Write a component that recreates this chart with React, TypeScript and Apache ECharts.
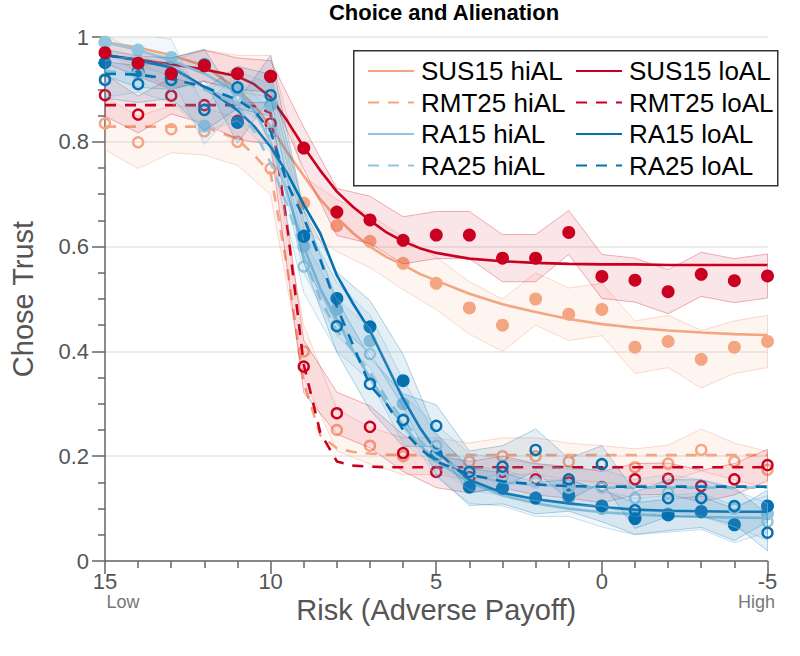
import React, { useEffect, useRef } from "react";
import * as echarts from "echarts";

// Risk levels (adverse payoff)
const X = [15, 14, 13, 12, 11, 10, 9, 8, 7, 6, 5, 4, 3, 2, 1, 0, -1, -2, -3, -4, -5];
// x grid of the fitted curves
const FIT_X = [15, 14, 13, 12, 11, 10.5, 10, 9.5, 9, 8.5, 8, 7.5, 7, 6.5, 6, 5.5, 5, 4, 3, 2, 1, 0, -1, -2, -3, -4, -5];

const SERIES_NAMES = ["SUS15 hiAL", "SUS15 loAL", "RMT25 hiAL", "RMT25 loAL", "RA15 hiAL", "RA15 loAL", "RA25 hiAL", "RA25 loAL"];

// observed proportions
const susHiData = [0.99, 0.95, 0.93, 0.945, 0.93, 0.925, 0.683, 0.64, 0.61, 0.568, 0.53, 0.483, 0.45, 0.5, 0.471, 0.48, 0.408, 0.419, 0.385, 0.408, 0.419];
const susLoData = [0.97, 0.95, 0.93, 0.945, 0.93, 0.925, 0.788, 0.666, 0.651, 0.612, 0.622, 0.622, 0.578, 0.578, 0.627, 0.543, 0.536, 0.514, 0.547, 0.535, 0.544];
const rmtHiData = [0.835, 0.799, 0.824, 0.82, 0.8, 0.749, 0.4, 0.25, 0.22, 0.2, 0.2, 0.19, 0.2, 0.2, 0.19, 0.185, 0.179, 0.186, 0.212, 0.19, 0.174];
const rmtLoData = [0.889, 0.852, 0.888, 0.87, 0.84, 0.835, 0.371, 0.282, 0.256, 0.206, 0.17, 0.16, 0.17, 0.156, 0.15, 0.141, 0.156, 0.157, 0.143, 0.156, 0.183];
const ra15HiData = [0.99, 0.975, 0.961, 0.83, 0.9, 0.87, 0.6, 0.48, 0.42, 0.3, 0.2, 0.145, 0.14, 0.12, 0.12, 0.1, 0.085, 0.09, 0.095, 0.07, 0.09];
const ra15LoData = [0.951, 0.934, 0.93, 0.947, 0.837, 0.925, 0.62, 0.501, 0.447, 0.344, 0.204, 0.141, 0.139, 0.12, 0.125, 0.105, 0.081, 0.088, 0.094, 0.069, 0.105];
const ra25HiData = [0.92, 0.93, 0.91, 0.86, 0.88, 0.82, 0.562, 0.45, 0.395, 0.27, 0.22, 0.17, 0.16, 0.15, 0.14, 0.14, 0.12, 0.13, 0.12, 0.1, 0.075];
const ra25LoData = [0.918, 0.91, 0.918, 0.861, 0.904, 0.889, 0.619, 0.448, 0.338, 0.269, 0.258, 0.17, 0.18, 0.212, 0.156, 0.185, 0.097, 0.12, 0.12, 0.105, 0.054];

// half widths of the shaded intervals
const susHiSE = [0.015, 0.02, 0.025, 0.03, 0.035, 0.04, 0.05, 0.05, 0.05, 0.05, 0.05, 0.05, 0.05, 0.05, 0.05, 0.05, 0.05, 0.05, 0.055, 0.05, 0.05];
const susLoSE = [0.02, 0.025, 0.03, 0.03, 0.03, 0.03, 0.04, 0.045, 0.045, 0.045, 0.045, 0.045, 0.045, 0.045, 0.042, 0.042, 0.042, 0.042, 0.042, 0.042, 0.042];
const rmtHiSE = [0.05, 0.05, 0.045, 0.045, 0.045, 0.05, 0.05, 0.04, 0.035, 0.035, 0.035, 0.035, 0.035, 0.035, 0.035, 0.035, 0.035, 0.035, 0.04, 0.035, 0.035];
const rmtLoSE = [0.04, 0.035, 0.035, 0.035, 0.035, 0.04, 0.05, 0.04, 0.04, 0.035, 0.03, 0.03, 0.03, 0.03, 0.03, 0.03, 0.03, 0.03, 0.03, 0.03, 0.03];
const ra15HiSE = [0.02, 0.03, 0.035, 0.035, 0.035, 0.04, 0.05, 0.05, 0.05, 0.045, 0.04, 0.035, 0.035, 0.035, 0.035, 0.035, 0.035, 0.035, 0.035, 0.035, 0.035];
const ra15LoSE = [0.025, 0.03, 0.03, 0.03, 0.04, 0.04, 0.05, 0.05, 0.05, 0.05, 0.04, 0.035, 0.03, 0.03, 0.03, 0.03, 0.03, 0.03, 0.03, 0.03, 0.03];
const ra25HiSE = [0.035, 0.035, 0.035, 0.04, 0.04, 0.04, 0.05, 0.05, 0.05, 0.045, 0.04, 0.035, 0.035, 0.035, 0.035, 0.035, 0.035, 0.035, 0.035, 0.035, 0.035];
const ra25LoSE = [0.035, 0.035, 0.035, 0.04, 0.04, 0.04, 0.05, 0.05, 0.05, 0.05, 0.04, 0.04, 0.04, 0.04, 0.04, 0.035, 0.035, 0.035, 0.035, 0.035, 0.035];

// fitted curves on FIT_X
const susHiFit = [0.99, 0.98, 0.965, 0.945, 0.9, 0.87, 0.83, 0.78, 0.735, 0.69, 0.655, 0.625, 0.6, 0.58, 0.565, 0.548, 0.535, 0.51, 0.49, 0.475, 0.462, 0.452, 0.445, 0.44, 0.436, 0.433, 0.431];
const susLoFit = [0.965, 0.957, 0.948, 0.938, 0.925, 0.91, 0.885, 0.84, 0.79, 0.745, 0.705, 0.675, 0.65, 0.627, 0.61, 0.597, 0.588, 0.577, 0.572, 0.569, 0.567, 0.566, 0.566, 0.565, 0.565, 0.565, 0.565];
const rmtHiFit = [0.829, 0.829, 0.829, 0.829, 0.805, 0.775, 0.74, 0.56, 0.34, 0.24, 0.215, 0.208, 0.205, 0.203, 0.202, 0.202, 0.202, 0.202, 0.202, 0.202, 0.202, 0.202, 0.202, 0.202, 0.202, 0.202, 0.202];
const rmtLoFit = [0.87, 0.87, 0.87, 0.87, 0.87, 0.868, 0.855, 0.64, 0.375, 0.245, 0.19, 0.182, 0.18, 0.179, 0.179, 0.179, 0.179, 0.179, 0.179, 0.179, 0.179, 0.179, 0.179, 0.179, 0.179, 0.179, 0.179];
const ra15HiFit = [0.99, 0.975, 0.955, 0.93, 0.895, 0.86, 0.8, 0.7, 0.6, 0.52, 0.46, 0.4, 0.35, 0.3, 0.26, 0.22, 0.19, 0.15, 0.125, 0.11, 0.1, 0.093, 0.089, 0.086, 0.084, 0.083, 0.082];
const ra15LoFit = [0.966, 0.955, 0.942, 0.905, 0.86, 0.83, 0.79, 0.74, 0.68, 0.625, 0.545, 0.49, 0.44, 0.375, 0.31, 0.255, 0.21, 0.155, 0.13, 0.118, 0.11, 0.103, 0.098, 0.096, 0.095, 0.094, 0.094];
const ra25HiFit = [0.935, 0.93, 0.92, 0.9, 0.87, 0.82, 0.76, 0.68, 0.58, 0.5, 0.44, 0.4, 0.36, 0.31, 0.27, 0.23, 0.2, 0.165, 0.15, 0.145, 0.142, 0.14, 0.14, 0.14, 0.14, 0.14, 0.14];
const ra25LoFit = [0.93, 0.928, 0.92, 0.905, 0.88, 0.86, 0.82, 0.72, 0.655, 0.575, 0.485, 0.41, 0.335, 0.3, 0.25, 0.215, 0.19, 0.165, 0.152, 0.146, 0.143, 0.142, 0.142, 0.142, 0.142, 0.142, 0.142];

const Y_TICKS = ["0", "0.2", "0.4", "0.6", "0.8", "1"];

const ORANGE = "#f4a582";
const RED = "#ca0020";
const LBLUE = "#92c5de";
const BLUE = "#0571b0";

const FONT = "'Liberation Sans', Arial, Helvetica, sans-serif";

type Cond = {
  name: string;
  color: string;
  dashed: boolean;
  filled: boolean;
  data: number[];
  se: number[];
  fit: number[];
  bandFill: string;
  bandStroke: string;
};

const CONDS: Cond[] = [
  { name: SERIES_NAMES[0], color: ORANGE, dashed: false, filled: true, data: susHiData, se: susHiSE, fit: susHiFit, bandFill: "rgba(244,165,130,0.11)", bandStroke: "rgba(244,165,130,0.4)" },
  { name: SERIES_NAMES[1], color: RED, dashed: false, filled: true, data: susLoData, se: susLoSE, fit: susLoFit, bandFill: "rgba(202,0,32,0.1)", bandStroke: "rgba(202,0,32,0.3)" },
  { name: SERIES_NAMES[2], color: ORANGE, dashed: true, filled: false, data: rmtHiData, se: rmtHiSE, fit: rmtHiFit, bandFill: "rgba(244,165,130,0.11)", bandStroke: "rgba(244,165,130,0.4)" },
  { name: SERIES_NAMES[3], color: RED, dashed: true, filled: false, data: rmtLoData, se: rmtLoSE, fit: rmtLoFit, bandFill: "rgba(202,0,32,0.1)", bandStroke: "rgba(202,0,32,0.3)" },
  { name: SERIES_NAMES[4], color: LBLUE, dashed: false, filled: true, data: ra15HiData, se: ra15HiSE, fit: ra15HiFit, bandFill: "rgba(146,197,222,0.13)", bandStroke: "rgba(146,197,222,0.5)" },
  { name: SERIES_NAMES[5], color: BLUE, dashed: false, filled: true, data: ra15LoData, se: ra15LoSE, fit: ra15LoFit, bandFill: "rgba(5,113,176,0.11)", bandStroke: "rgba(5,113,176,0.3)" },
  { name: SERIES_NAMES[6], color: LBLUE, dashed: true, filled: false, data: ra25HiData, se: ra25HiSE, fit: ra25HiFit, bandFill: "rgba(146,197,222,0.13)", bandStroke: "rgba(146,197,222,0.5)" },
  { name: SERIES_NAMES[7], color: BLUE, dashed: true, filled: false, data: ra25LoData, se: ra25LoSE, fit: ra25LoFit, bandFill: "rgba(5,113,176,0.11)", bandStroke: "rgba(5,113,176,0.3)" },
];

function buildSeries() {
  const out: any[] = [];
  CONDS.forEach((c, k) => {
    const base = k * 3;
    out.push({
      type: "custom",
      name: c.name + " band",
      silent: true,
      z: base + 1,
      clip: true,
      data: [[X[0], c.data[0]]],
      renderItem: (params: any, api: any) => {
        const upper = X.map((x, i) => api.coord([x, c.data[i] + c.se[i]]));
        const lower = X.map((x, i) => api.coord([x, c.data[i] - c.se[i]])).reverse();
        return {
          type: "polygon",
          shape: { points: upper.concat(lower) },
          style: { fill: c.bandFill, stroke: c.bandStroke, lineWidth: 1 },
        };
      },
    });
    out.push({
      type: "scatter",
      name: c.name + " obs",
      silent: true,
      z: c.name === "SUS15 loAL" ? 40 : base + 2,
      symbol: "circle",
      symbolSize: c.filled ? 13 : 10,
      itemStyle: c.filled
        ? { color: c.color, opacity: 1 }
        : { color: "rgba(255,255,255,0)", borderColor: c.color, borderWidth: 2.4, opacity: 1 },
      data: X.map((x, i) => [x, c.data[i]]),
    });
    out.push({
      type: "line",
      name: c.name,
      z: base + 3,
      symbol: "none",
      showSymbol: false,
      color: c.color,
      lineStyle: { color: c.color, width: 2.6, type: c.dashed ? [11, 9] : "solid" },
      data: FIT_X.map((x, i) => [x, c.fit[i]]),
    });
  });
  return out;
}

const legendBase = {
  orient: "vertical",
  top: 58,
  padding: 0,
  itemWidth: 46,
  itemHeight: 12,
  itemGap: 5.5,
  z: 60,
  selectedMode: false,
  itemStyle: { color: "rgba(0,0,0,0)", borderWidth: 0, opacity: 0 },
  textStyle: { fontSize: 26, color: "#000", fontFamily: FONT, lineHeight: 26, padding: [0, 0, 0, 2] },
};

export default function App() {
  const ref = useRef<HTMLDivElement>(null);
  useEffect(() => {
    if (!ref.current) return;
    const chart = echarts.init(ref.current, undefined, { renderer: "svg" });
    const axisColor = "#666";
    const option: any = {
      animation: false,
      backgroundColor: "#fff",
      textStyle: { fontFamily: FONT },
      title: {
        text: "Choice and Alienation",
        left: 444,
        top: 1,
        padding: 0,
        textAlign: "center",
        textStyle: { fontSize: 22, fontWeight: "bold", color: "#000", fontFamily: FONT },
      },
      grid: { left: 100, right: 12, top: 37, bottom: 95, containLabel: false },
      xAxis: {
        type: "value",
        min: -5,
        max: 15,
        interval: 5,
        inverse: true,
        name: "Risk (Adverse Payoff)",
        nameLocation: "middle",
        nameGap: 34,
        nameMoveOverlap: false,
        nameTextStyle: { fontSize: 29, color: "#555", fontFamily: FONT },
        axisLine: { show: true, onZero: false, lineStyle: { color: axisColor, width: 1.5 } },
        axisTick: { show: true, inside: false, length: 13, lineStyle: { color: axisColor, width: 1.5 } },
        minorTick: { show: true, splitNumber: 5, length: 7, lineStyle: { color: axisColor, width: 1.5 } },
        splitLine: { show: false },
        axisLabel: {
          margin: 9,
          fontSize: 22,
          color: "#555",
          fontFamily: FONT,
          lineHeight: 23,
          formatter: (v: number) => (v === 15 ? "15\n{lo|Low}" : v === -5 ? "-5\n{hi|High}" : String(v)),
          rich: {
            lo: { fontSize: 18, color: "#777", fontFamily: FONT, lineHeight: 18, padding: [0, 0, 0, 36] },
            hi: { fontSize: 18, color: "#777", fontFamily: FONT, lineHeight: 18, padding: [0, 22, 0, 0] },
          },
        },
      },
      yAxis: {
        type: "value",
        min: 0,
        max: 1,
        interval: 0.2,
        name: "Chose Trust",
        nameLocation: "middle",
        nameGap: 68,
        nameMoveOverlap: false,
        nameTextStyle: { fontSize: 29, color: "#555", fontFamily: FONT },
        axisLine: { show: true, onZero: false, lineStyle: { color: axisColor, width: 1.5 } },
        axisTick: { show: true, inside: false, length: 13, lineStyle: { color: axisColor, width: 1.5 } },
        minorTick: { show: true, splitNumber: 4, length: 7, lineStyle: { color: axisColor, width: 1.5 } },
        splitLine: { show: true, lineStyle: { color: "#e6e6e6", width: 1.5 } },
        axisLabel: {
          margin: 16,
          fontSize: 22,
          color: "#555",
          fontFamily: FONT,
          formatter: (v: number) => Y_TICKS[Math.round(v * 5)] ?? String(v),
        },
      },
      legend: [
        { ...legendBase, left: 367, data: [SERIES_NAMES[0], SERIES_NAMES[2], SERIES_NAMES[4], SERIES_NAMES[6]] },
        { ...legendBase, left: 575, data: [SERIES_NAMES[1], SERIES_NAMES[3], SERIES_NAMES[5], SERIES_NAMES[7]] },
      ],
      graphic: [
        {
          type: "rect",
          z: 55,
          left: 353,
          top: 50,
          shape: { width: 424, height: 135 },
          style: { fill: "#fff", stroke: "#333", lineWidth: 1.5 },
        },
      ],
      series: buildSeries(),
    };
    chart.setOption(option);
    return () => chart.dispose();
  }, []);
  return <div ref={ref} style={{ position: "fixed", left: 0, top: 0, width: 800, height: 656 }} />;
}
